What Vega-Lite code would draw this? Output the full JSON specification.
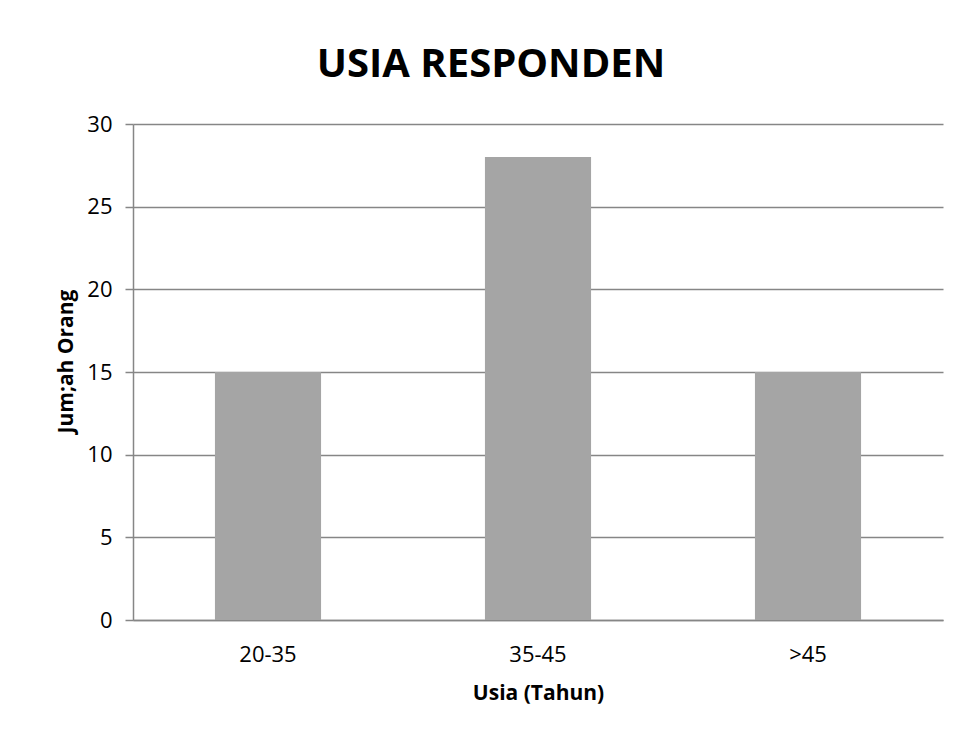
{
  "$schema": "https://vega.github.io/schema/vega-lite/v6.json",
  "autosize": "none",
  "width": 810,
  "height": 496,
  "padding": {"left": 133, "top": 124, "right": 25, "bottom": 115},
  "background": "white",
  "title": {
    "text": "USIA RESPONDEN",
    "font": "Open Sans",
    "fontSize": 40,
    "fontWeight": "bold",
    "color": "black",
    "anchor": "middle",
    "dx": -47,
    "offset": 28
  },
  "data": {
    "values": [
      {"usia": "20-35", "jumlah": 15},
      {"usia": "35-45", "jumlah": 28},
      {"usia": ">45", "jumlah": 15}
    ]
  },
  "mark": {"type": "bar", "color": "#A5A5A5"},
  "encoding": {
    "x": {
      "field": "usia",
      "type": "nominal",
      "sort": ["20-35", "35-45", ">45"],
      "scale": {"paddingInner": 0.607, "paddingOuter": 0.3035},
      "axis": {
        "title": "Usia (Tahun)",
        "labelAngle": 0,
        "ticks": false,
        "labelPadding": 24,
        "titlePadding": 17,
        "domainColor": "#868686",
        "domainWidth": 1.5
      }
    },
    "y": {
      "field": "jumlah",
      "type": "quantitative",
      "scale": {"domain": [0, 30], "nice": false},
      "axis": {
        "title": "Jum;ah Orang",
        "titleY": 237,
        "values": [0, 5, 10, 15, 20, 25, 30],
        "tickSize": 8,
        "tickColor": "#868686",
        "tickWidth": 1.5,
        "labelPadding": 13,
        "titlePadding": 10,
        "domainColor": "#868686",
        "domainWidth": 1.5,
        "grid": true,
        "gridColor": "#868686",
        "gridWidth": 1.5
      }
    }
  },
  "config": {
    "view": {"stroke": null},
    "axis": {
      "labelFont": "Open Sans",
      "labelFontSize": 22,
      "labelColor": "black",
      "titleFont": "Open Sans",
      "titleFontSize": 21,
      "titleFontWeight": "bold",
      "titleColor": "black"
    }
  }
}
